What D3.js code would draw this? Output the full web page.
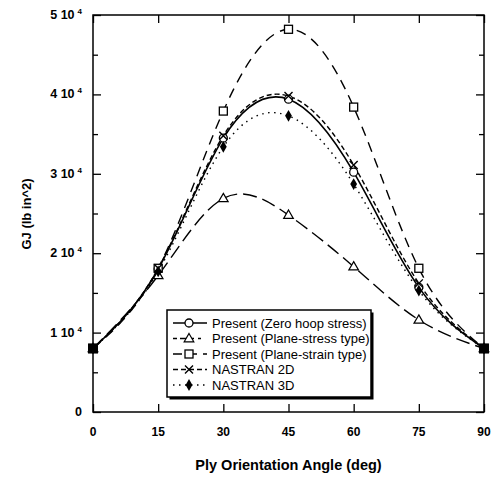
<!DOCTYPE html>
<html>
<head>
<meta charset="utf-8">
<script src="https://cdn.jsdelivr.net/npm/d3@7"></script>
<style>
  body { margin: 0; background: #fff; }
  svg { font-family: "Liberation Sans", Arial, sans-serif; }
</style>
</head>
<body>
<div id="chart"></div>
<script>
// ply angle (deg) vs torsional stiffness GJ (lb in^2)
var angles = [0, 15, 30, 45, 60, 75, 90];
var zeroHoop = [8000, 18000, 34500, 39400, 30200, 15700, 8000];
var planeStress = [8000, 17200, 26900, 24800, 18300, 11600, 8000];
var planeStrain = [8000, 18100, 37900, 48200, 38400, 18100, 8000];
var nastran2D = [8000, 18100, 34800, 39800, 31100, 16200, 8000];
var nastran3D = [8000, 17700, 33400, 37300, 28700, 15300, 8000];

var seriesNames = ["Present (Zero hoop stress)", "Present (Plane-stress type)",
                   "Present (Plane-strain type)", "NASTRAN 2D", "NASTRAN 3D"];
var xTicks = [0, 15, 30, 45, 60, 75, 90];
var yTicks = [0, 10000, 20000, 30000, 40000, 50000];
var yMinor = [5000, 15000, 25000, 35000, 45000];
var yMant = ["0", "1 10", "2 10", "3 10", "4 10", "5 10"];

var W = 496, H = 479;
// note: "top" is taken by window.top, so plot edges get their own names
var plotL = 93, plotR = 484, plotT = 15, plotB = 412;

var svg = d3.select("#chart").append("svg")
  .attr("width", W).attr("height", H);

var x = d3.scaleLinear().domain([0, 90]).range([plotL, plotR]);
var y = d3.scaleLinear().domain([0, 50000]).range([plotB, plotT]);

/* frame + inward ticks */
svg.append("rect")
  .attr("x", plotL).attr("y", plotT)
  .attr("width", plotR - plotL).attr("height", plotB - plotT)
  .attr("fill", "none").attr("stroke", "#000").attr("stroke-width", 1.5);

function tickAxis(axis, tr) {
  var g = svg.append("g").attr("transform", tr).call(axis);
  g.select(".domain").remove();
  g.selectAll("line").attr("stroke", "#000").attr("stroke-width", 1.3);
  return g;
}
tickAxis(d3.axisBottom(x).tickValues(xTicks).tickSize(-8).tickFormat(""), "translate(0," + plotB + ")");
tickAxis(d3.axisTop(x).tickValues(xTicks).tickSize(-8).tickFormat(""), "translate(0," + plotT + ")");
tickAxis(d3.axisLeft(y).tickValues(yTicks).tickSize(-8).tickFormat(""), "translate(" + plotL + ",0)");
tickAxis(d3.axisLeft(y).tickValues(yMinor).tickSize(-5).tickFormat(""), "translate(" + plotL + ",0)");
tickAxis(d3.axisRight(y).tickValues(yTicks).tickSize(-8).tickFormat(""), "translate(" + plotR + ",0)");
tickAxis(d3.axisRight(y).tickValues(yMinor).tickSize(-5).tickFormat(""), "translate(" + plotR + ",0)");

/* tick labels */
svg.selectAll("text.xl").data(xTicks).enter().append("text")
  .attr("class", "xl")
  .attr("x", function(d) { return x(d); })
  .attr("y", 436)
  .attr("text-anchor", "middle")
  .attr("font-size", 12).attr("font-weight", "bold")
  .text(function(d) { return d; });

yTicks.forEach(function(d, i) {
  var t = svg.append("text")
    .attr("x", 82).attr("y", y(d) + 4)
    .attr("text-anchor", "end")
    .attr("font-size", 12.5).attr("font-weight", "bold");
  t.append("tspan").text(yMant[i]);
  if (i > 0) {
    t.append("tspan").attr("font-size", 8).attr("dx", 3).attr("dy", -5).text("4");
  }
});

svg.append("text")
  .attr("x", (plotL + plotR) / 2).attr("y", 470)
  .attr("text-anchor", "middle")
  .attr("font-size", 14.5).attr("font-weight", "bold")
  .text("Ply Orientation Angle (deg)");

svg.append("text")
  .attr("transform", "translate(31,214) rotate(-90)")
  .attr("text-anchor", "middle")
  .attr("font-size", 13).attr("font-weight", "bold")
  .text("GJ (lb in^2)");

/* curves */
var allSeries = [zeroHoop, planeStress, planeStrain, nastran2D, nastran3D];
var dashes = [null, "14,6", "10,7", "5,3", "1.5,4.5"];
var markers = ["circle", "triangle", "square", "cross", "diamond"];

var line = d3.line()
  .x(function(d, i) { return x(angles[i]); })
  .y(function(d) { return y(d); })
  .curve(d3.curveNatural);

allSeries.forEach(function(s, k) {
  svg.append("path")
    .attr("d", line(s))
    .attr("fill", "none")
    .attr("stroke", "#000")
    .attr("stroke-width", k == 0 ? 1.6 : 1.4)
    .attr("stroke-dasharray", dashes[k]);
});

function drawMarker(type, cx, cy) {
  if (type == "circle") {
    svg.append("circle").attr("cx", cx).attr("cy", cy).attr("r", 4)
      .attr("fill", "#fff").attr("stroke", "#000").attr("stroke-width", 1.3);
  } else if (type == "triangle") {
    svg.append("path")
      .attr("d", d3.symbol().type(d3.symbolTriangle).size(40)())
      .attr("transform", "translate(" + cx + "," + (cy + 0.5) + ")")
      .attr("fill", "#fff").attr("stroke", "#000").attr("stroke-width", 1.2);
  } else if (type == "square") {
    svg.append("rect").attr("x", cx - 4).attr("y", cy - 4)
      .attr("width", 8).attr("height", 8)
      .attr("fill", "#fff").attr("stroke", "#000").attr("stroke-width", 1.3);
  } else if (type == "cross") {
    svg.append("path")
      .attr("d", "M" + (cx - 4) + "," + (cy - 4) + "L" + (cx + 4) + "," + (cy + 4) +
                 "M" + (cx + 4) + "," + (cy - 4) + "L" + (cx - 4) + "," + (cy + 4))
      .attr("stroke", "#000").attr("stroke-width", 1.4);
  } else {
    svg.append("path")
      .attr("d", d3.symbol().type(d3.symbolDiamond).size(40)())
      .attr("transform", "translate(" + cx + "," + cy + ")")
      .attr("fill", "#000");
  }
}

allSeries.forEach(function(s, k) {
  s.forEach(function(v, i) {
    drawMarker(markers[k], x(angles[i]), y(v));
  });
});

// end points are buried under all five markers -> solid block
[0, 90].forEach(function(a) {
  svg.append("rect")
    .attr("x", x(a) - 5).attr("y", y(8000) - 5)
    .attr("width", 10).attr("height", 10).attr("fill", "#000");
});

/* legend */
var lx = 167, ly = 310, lw = 204, lh = 87, rowH = 15.5;
svg.append("rect").attr("x", lx + 2.5).attr("y", ly + 2.5)
  .attr("width", lw).attr("height", lh).attr("fill", "#000");
svg.append("rect").attr("x", lx).attr("y", ly)
  .attr("width", lw).attr("height", lh)
  .attr("fill", "#fff").attr("stroke", "#000").attr("stroke-width", 1.5);

seriesNames.forEach(function(name, k) {
  var ry = ly + 13 + k * rowH;
  svg.append("line")
    .attr("x1", lx + 6).attr("x2", lx + 40)
    .attr("y1", ry).attr("y2", ry)
    .attr("stroke", "#000").attr("stroke-width", 1.4)
    .attr("stroke-dasharray", dashes[k] ? (k == 1 ? "4,3,14" : (k == 2 ? "9,6" : dashes[k])) : null);
  drawMarker(markers[k], lx + 22, ry);
  svg.append("text")
    .attr("x", lx + 45).attr("y", ry + 4.5)
    .attr("font-size", 13)
    .text(name);
});
</script>
</body>
</html>
